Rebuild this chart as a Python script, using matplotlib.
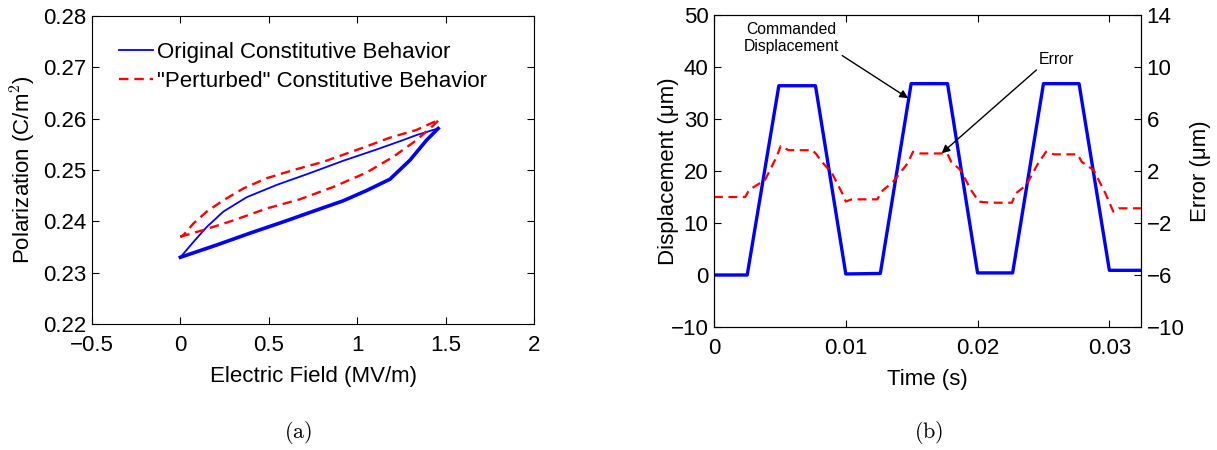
import matplotlib
matplotlib.use('Agg')
import matplotlib.pyplot as plt

plt.rcParams['font.family'] = ['Liberation Sans', 'DejaVu Sans']
plt.rcParams['mathtext.fontset'] = 'cm'

# (a) hysteresis loops
orig_field = [0.0, 0.206, 0.394, 0.582, 0.771, 0.921, 1.053, 1.185, 1.298, 1.392, 1.458,
              1.335, 1.241, 1.110, 0.921, 0.733, 0.545, 0.375, 0.243, 0.149, 0.074, 0.0]
orig_pol = [0.2330, 0.2354, 0.2377, 0.2399, 0.2422, 0.2440, 0.2460, 0.2482, 0.2519, 0.2558, 0.2581,
            0.2568, 0.2556, 0.2540, 0.2518, 0.2494, 0.2471, 0.2447, 0.2419, 0.2389, 0.2360, 0.2330]
orig_lower = 11  # first points form the (thicker) rising branch

pert_field = [0.0, 0.02, 0.130, 0.301, 0.488, 0.676, 0.865, 1.053, 1.205, 1.335, 1.431, 1.463,
              1.335, 1.185, 1.053, 0.809, 0.640, 0.488, 0.356, 0.243, 0.149, 0.074, 0.017, 0.0]
pert_pol = [0.2370, 0.2372, 0.2383, 0.2402, 0.2425, 0.2443, 0.2467, 0.2495, 0.2526, 0.2558, 0.2587, 0.2598,
            0.2578, 0.2563, 0.2546, 0.2516, 0.2500, 0.2484, 0.2464, 0.2441, 0.2419, 0.2396, 0.2373, 0.2370]

# (b) displacement and error
t_disp = [0.0, 0.00252, 0.00492, 0.0077, 0.0100, 0.01262, 0.01496, 0.01772,
          0.0200, 0.02266, 0.0250, 0.0277, 0.0300, 0.0325]
disp = [0.0, 0.0, 36.4, 36.4, 0.2, 0.3, 36.8, 36.8,
        0.4, 0.4, 36.8, 36.8, 0.9, 0.9]

t_err = [0.0, 0.00237, 0.00266, 0.00387, 0.00476, 0.00506, 0.00566, 0.00746, 0.00776,
         0.00806, 0.00896, 0.00986, 0.0100, 0.01046, 0.0124, 0.0127, 0.0136, 0.0147,
         0.0151, 0.0156, 0.0177, 0.0180, 0.0187, 0.0195, 0.0201, 0.0210, 0.0226,
         0.0229, 0.0237, 0.0246, 0.0252, 0.0258, 0.0276, 0.0279, 0.0288, 0.0297,
         0.0303, 0.0307, 0.0325]
err = [0.0, 0.0, 0.54, 1.31, 3.1, 3.92, 3.6, 3.6, 3.3,
       2.85, 1.82, 0.03, -0.35, -0.18, -0.18, 0.41, 1.18, 2.6,
       3.48, 3.35, 3.35, 2.7, 2.08, 0.54, -0.36, -0.44, -0.44,
       0.28, 0.92, 2.6, 3.48, 3.28, 3.28, 2.7, 2.08, 0.28,
       -1.13, -0.87, -0.87]

fs = 16
W, H = 1217, 450

fig = plt.figure(figsize=(W / 100, H / 100), dpi=100)

ax1 = fig.add_axes([92 / W, 1 - 324 / H, 442 / W, 308 / H])
ax1.plot(orig_field, orig_pol, color='blue', lw=1.3, label='Original Constitutive Behavior')
ax1.plot(orig_field[:orig_lower], orig_pol[:orig_lower], color='blue', lw=2.6)
ax1.plot(pert_field, pert_pol, color='red', lw=1.7, ls='--', dashes=(4, 2.5),
         label='"Perturbed" Constitutive Behavior')
ax1.set_xlim(-0.5, 2)
ax1.set_ylim(0.22, 0.28)
ax1.set_xticks([-0.5, 0, 0.5, 1, 1.5, 2])
ax1.set_xticklabels(['\u22120.5', '0', '0.5', '1', '1.5', '2'])
ax1.set_yticks([0.22, 0.23, 0.24, 0.25, 0.26, 0.27, 0.28])
ax1.set_xlabel('Electric Field (MV/m)', fontsize=fs, labelpad=7)
ax1.set_ylabel('Polarization (C/m$^2$)', fontsize=fs)
ax1.yaxis.set_label_coords(-0.122, 0.5)
ax1.tick_params(labelsize=fs, direction='in', top=True, right=True, length=5)
ax1.tick_params(axis='x', pad=8)
ax1.tick_params(axis='y', pad=4)
ax1.legend(loc='upper left', frameon=False, fontsize=fs, handlelength=1.5,
           handletextpad=0.2, borderaxespad=0, borderpad=0, labelspacing=0.35,
           bbox_to_anchor=(0.062, 0.915))

ax2 = fig.add_axes([714 / W, 1 - 327 / H, 427 / W, 312 / H])
ax2.plot(t_disp, disp, color='blue', lw=2.4)
ax2.set_xlim(0, 0.0324)
ax2.set_ylim(-10, 50)
ax2.set_xticks([0, 0.01, 0.02, 0.03])
ax2.set_xticklabels(['0', '0.01', '0.02', '0.03'])
ax2.set_yticks([-10, 0, 10, 20, 30, 40, 50])
ax2.set_yticklabels(['\u221210', '0', '10', '20', '30', '40', '50'])
ax2.set_xlabel('Time (s)', fontsize=fs, labelpad=7)
ax2.set_ylabel('Displacement (\u03bcm)', fontsize=fs)
ax2.yaxis.set_label_coords(-0.082, 0.5)
ax2.tick_params(labelsize=fs, direction='in', top=True, length=5)
ax2.tick_params(axis='x', pad=8)
ax2.tick_params(axis='y', pad=4)

ax3 = ax2.twinx()
ax3.plot(t_err, err, color='red', lw=1.6, ls='--', dashes=(4, 2.5))
ax3.set_ylim(-10, 14)
ax3.set_yticks([-10, -6, -2, 2, 6, 10, 14])
ax3.set_yticklabels(['\u221210', '\u22126', '\u22122', '2', '6', '10', '14'])
ax3.set_ylabel('Error (\u03bcm)', fontsize=fs)
ax3.yaxis.set_label_coords(1.115, 0.5)
ax3.tick_params(labelsize=fs, direction='in', length=5, pad=4)

ax2.annotate('Commanded\nDisplacement', xy=(0.01473, 34.0), xytext=(0.0059, 45.6),
             fontsize=11.3, ha='center', va='center', linespacing=1.15,
             arrowprops=dict(arrowstyle='-|>', color='black', lw=1.0, shrinkA=0, shrinkB=0,
                             mutation_scale=12, relpos=(1, 0)))
ax2.annotate('Error', xy=(0.01727, 23.4), xytext=(0.02602, 41.35),
             fontsize=11.3, ha='center', va='center',
             arrowprops=dict(arrowstyle='-|>', color='black', lw=1.0, shrinkA=0, shrinkB=0,
                             mutation_scale=12, relpos=(0, 0)))

fig.text(298 / W, 1 - 433 / H, r'$\mathrm{(a)}$', ha='center', va='center', fontsize=16)
fig.text(929 / W, 1 - 433 / H, r'$\mathrm{(b)}$', ha='center', va='center', fontsize=16)

fig.savefig('out.png', dpi=100)
